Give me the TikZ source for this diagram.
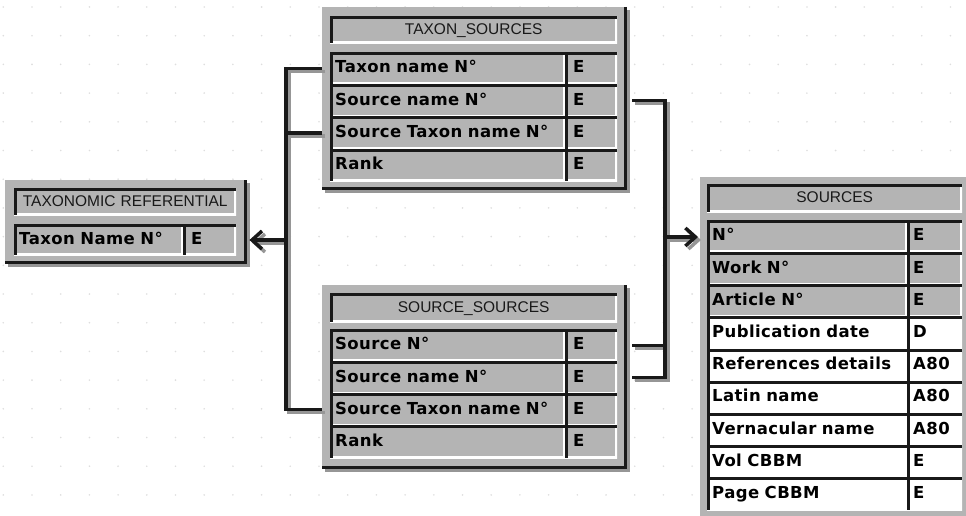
\documentclass[tikz,border=0pt]{standalone}
\usepackage{fontspec}
\usepackage{tikz}
\usetikzlibrary{arrows.meta}
\newfontfamily\rowfont{DejaVu Sans}[LetterSpace=2.5]
\newfontfamily\headfont{Liberation Sans}
\definecolor{panelgrey}{RGB}{180,180,180}
\definecolor{shadegrey}{RGB}{150,150,150}
\definecolor{dotgrey}{RGB}{222,222,222}
\definecolor{ink}{RGB}{25,25,25}
\tikzset{
  bevel/.style={path picture={
    \draw[white, line width=4] (path picture bounding box.north east) -- (path picture bounding box.south east) -- (path picture bounding box.south west);
    \draw[ink, line width=5] (path picture bounding box.south west) -- (path picture bounding box.north west) -- (path picture bounding box.north east);}},
  panel/.style={rectangle, fill=panelgrey, anchor=north west, inner sep=0pt},
  cell/.style={rectangle, bevel, fill=panelgrey, anchor=north west, inner ysep=0pt, text height=12pt, text depth=3pt},
  namecell/.style={cell, inner xsep=5pt, font=\rowfont\bfseries\fontsize{16.5}{18}\selectfont},
  typecell/.style={namecell, inner xsep=8pt},
  headcell/.style={cell, inner xsep=5pt, align=center, text height=11pt, text depth=2pt, text=ink, font=\headfont\fontsize{15.5}{17}\selectfont},
  rim/.style={ink, line width=2.5},
  rimshade/.style={shadegrey, line width=2.5, transform canvas={shift={(3,3)}}},
  wire/.style={ink, line width=3.5},
  wireshade/.style={shadegrey, line width=3.5, transform canvas={shift={(3,3)}}},
  tip/.style={-{Straight Barb[length=10pt, width=18pt]}}
}
\begin{document}
\begin{tikzpicture}[x=1pt, y=-1pt]
\useasboundingbox (0,0) rectangle (966,516);
\clip (0,0) rectangle (966,516);
\foreach \i in {0,...,33} \foreach \j in {0,...,17} \fill[dotgrey] ({3.3+28.7*\i},{7+28.7*\j}) circle (0.9);

\draw (5,180) node[panel, minimum width=240pt, minimum height=82pt, name=trp]{};
\draw (322,7) node[panel, minimum width=303pt, minimum height=181pt, name=tsp]{};
\draw (322,285) node[panel, minimum width=303pt, minimum height=182pt, name=ssp]{};
\draw (700,177) node[panel, minimum width=280pt, minimum height=350pt, name=srcp]{};
\foreach \st in {rimshade, rim} {
  \draw[\st] (trp.north east) -- (trp.south east) -- (trp.south west);
  \draw[\st] (tsp.north east) -- (tsp.south east) -- (tsp.south west);
  \draw[\st] (ssp.north east) -- (ssp.south east) -- (ssp.south west);
}

\draw (14,188) node[headcell, minimum height=27pt, text width=212pt, name=tr-h]{TAXONOMIC REFERENTIAL};
\draw (14,224) node[namecell, minimum height=31pt, text width=159pt, name=tr-1]{Taxon Name N°};
\draw (183,224) node[typecell, minimum height=31pt, text width=37pt, name=trt-1]{E};

\draw (330,16) node[headcell, minimum height=27pt, text width=277pt, name=ts-h]{TAXON\_SOURCES};
\foreach \lab [count=\i] in {Taxon name N°, Source name N°, Source Taxon name N°, Rank} {
  \draw (330,{52+(\i-1)*32.3}) node[namecell, minimum height=32.3pt, text width=225pt, name=ts-\i]{\lab};
  \draw (565,{52+(\i-1)*32.3}) node[typecell, minimum height=32.3pt, text width=36pt, name=tst-\i]{E};
}

\draw (330,293) node[headcell, minimum height=29pt, text width=277pt, name=ss-h]{SOURCE\_SOURCES};
\foreach \lab [count=\i] in {Source N°, Source name N°, Source Taxon name N°, Rank} {
  \draw (330,{329+(\i-1)*32.2}) node[namecell, minimum height=32.2pt, text width=225pt, name=ss-\i]{\lab};
  \draw (565,{329+(\i-1)*32.2}) node[typecell, minimum height=32.2pt, text width=36pt, name=sst-\i]{E};
}

\draw (707,184) node[headcell, minimum height=28pt, text width=245pt, name=src-h]{SOURCES};
\foreach \lab/\typ [count=\i] in {N°/E, Work N°/E, Article N°/E, Publication date/D, References details/A80, Latin name/A80, Vernacular name/A80, Vol CBBM/E, Page CBBM/E} {
  \ifnum\i<4 \def\rowfill{panelgrey}\else\def\rowfill{white}\fi
  \draw (707,{220+(\i-1)*32.2}) node[namecell, fill=\rowfill, minimum height=32.2pt, text width=190pt, name=src-\i]{\lab};
  \draw (907,{220+(\i-1)*32.2}) node[typecell, fill=\rowfill, inner xsep=6pt, minimum height=32.2pt, text width=43pt, name=srct-\i]{\typ};
}

\coordinate (lbus) at (286,240);
\coordinate (rbus) at (665,237);
\foreach \st in {wireshade, wire} {
  \draw[\st] (ts-1 -| tsp.west) -- (ts-1 -| lbus) -- (ss-3 -| lbus) -- (ss-3 -| ssp.west);
  \draw[\st] (ts-3 -| tsp.west) -- (ts-3 -| lbus);
  \draw[\st, tip, shorten >=4pt] (lbus) -- (lbus -| trp.east);
  \draw[\st, shorten <=7pt, shorten >=7pt] (ts-2 -| tsp.east) -- (ts-2 -| rbus) -- (ss-2 -| rbus) -- (ss-2 -| ssp.east);
  \draw[\st, shorten <=7pt] (ss-1 -| ssp.east) -- (ss-1 -| rbus);
  \draw[\st, tip, shorten >=2pt] (rbus) -- (rbus -| srcp.west);
}
\end{tikzpicture}
\end{document}
